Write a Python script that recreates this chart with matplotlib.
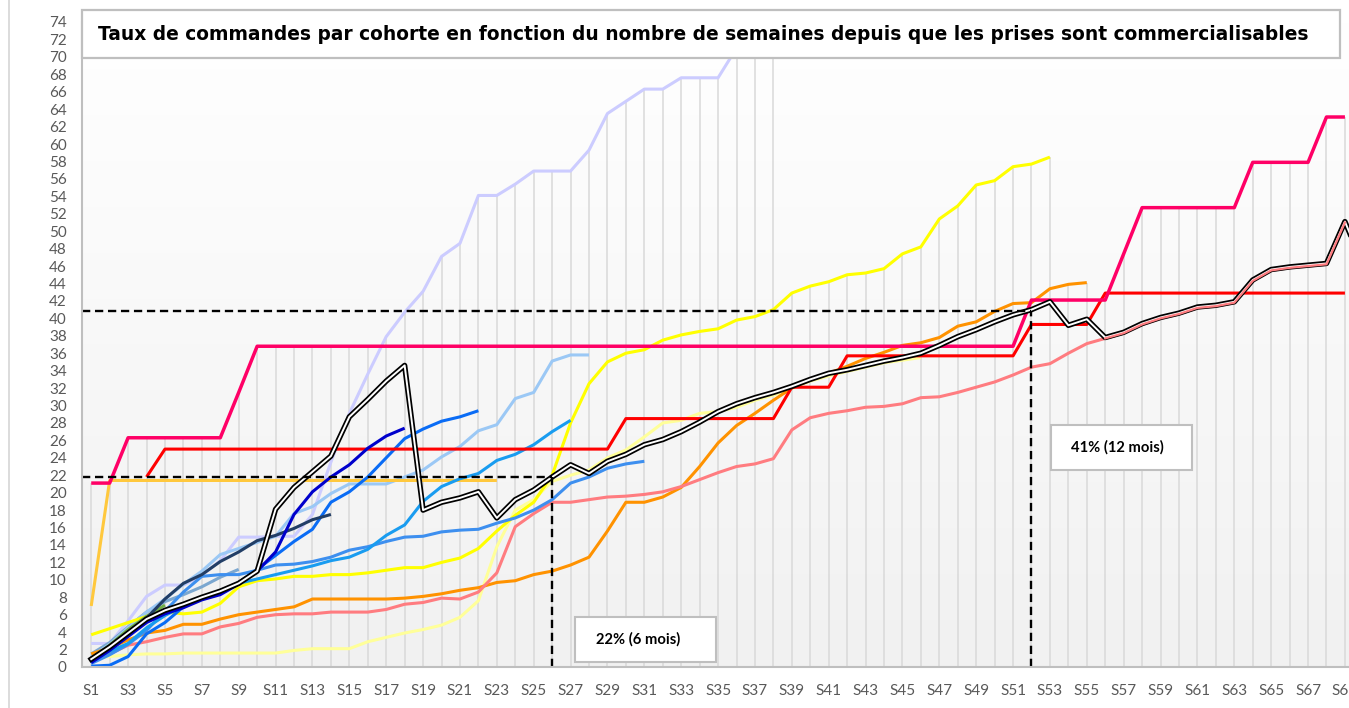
import numpy as np
import matplotlib
matplotlib.use('Agg')
import matplotlib.pyplot as plt
from matplotlib.patches import Rectangle
from matplotlib.lines import Line2D

#-------------------------------------------------------------------------
# data : taux de commandes (%) par cohorte, semaine S1 .. S70
#-------------------------------------------------------------------------
n_weeks = 70
weeks = ['S%d' % (i + 1) for i in range(n_weeks)]
nan = np.nan

pink = [21.1, 21.1, 26.3, 26.3, 26.3, 26.3, 26.3, 26.3, 31.5, 36.8,
        36.8, 36.8, 36.8, 36.8, 36.8, 36.8, 36.8, 36.8, 36.8, 36.8,
        36.8, 36.8, 36.8, 36.8, 36.8, 36.8, 36.8, 36.8, 36.8, 36.8,
        36.8, 36.8, 36.8, 36.8, 36.8, 36.8, 36.8, 36.8, 36.8, 36.8,
        36.8, 36.8, 36.8, 36.8, 36.8, 36.8, 36.8, 36.8, 36.8, 36.8,
        36.8, 42.1, 42.1, 42.1, 42.1, 42.1, 47.4, 52.7, 52.7, 52.7,
        52.7, 52.7, 52.7, 57.9, 57.9, 57.9, 57.9, 63.1, 63.1]
red = [nan, nan, nan, 21.8, 25.0, 25.0, 25.0, 25.0, 25.0, 25.0,
       25.0, 25.0, 25.0, 25.0, 25.0, 25.0, 25.0, 25.0, 25.0, 25.0,
       25.0, 25.0, 25.0, 25.0, 25.0, 25.0, 25.0, 25.0, 25.0, 28.5,
       28.5, 28.5, 28.5, 28.5, 28.5, 28.5, 28.5, 28.5, 32.1, 32.1,
       32.1, 35.7, 35.7, 35.7, 35.7, 35.7, 35.7, 35.7, 35.7, 35.7,
       35.7, 39.3, 39.3, 39.3, 39.3, 42.9, 42.9, 42.9, 42.9, 42.9,
       42.9, 42.9, 42.9, 42.9, 42.9, 42.9, 42.9, 42.9, 42.9]
gold = [7.0, 21.4, 21.4, 21.4, 21.4, 21.4, 21.4, 21.4, 21.4, 21.4,
        21.4, 21.4, 21.4, 21.4, 21.4, 21.4, 21.4, 21.4, 21.4, 21.4,
        21.4, 21.4, 21.4]
lavender = [2.7, 2.7, 5.3, 8.1, 9.4, 9.4, 10.5, 12.2, 14.9, 14.9,
            15.0, 15.0, 17.5, 23.5, 29.1, 33.6, 37.9, 40.7, 43.1, 47.1,
            48.6, 54.1, 54.1, 55.4, 56.9, 56.9, 56.9, 59.3, 63.5, 64.9,
            66.3, 66.3, 67.6, 67.6, 67.6, 71.0, 72.6, 73.6]
yellow = [3.7, 4.4, 5.1, 5.8, 6.3, 6.1, 6.3, 7.3, 9.2, 9.9,
          10.1, 10.4, 10.4, 10.6, 10.6, 10.8, 11.1, 11.4, 11.4, 12.0,
          12.5, 13.6, 15.6, 17.4, 18.9, 22.0, 28.0, 32.5, 35.0, 36.0,
          36.4, 37.5, 38.1, 38.5, 38.8, 39.8, 40.2, 41.0, 42.9, 43.7,
          44.2, 45.0, 45.2, 45.7, 47.4, 48.2, 51.4, 52.9, 55.3, 55.8,
          57.4, 57.7, 58.5]
pale_yellow = [1.0, 1.2, 1.4, 1.5, 1.5, 1.6, 1.6, 1.6, 1.6, 1.6,
               1.6, 1.9, 2.1, 2.1, 2.1, 2.9, 3.4, 3.9, 4.3, 4.8,
               5.7, 7.6, 13.8, 18.0, 19.2, 21.3, 22.0, 22.6, 24.0, 24.9,
               26.4, 28.0, 28.3, 29.1, 29.3, 29.8, 30.6, 31.2, 32.0, 32.8,
               33.4, 33.9, 34.4, 34.9, 35.2, 35.5]
orange = [1.5, 2.2, 3.1, 3.9, 4.2, 4.9, 4.9, 5.5, 6.0, 6.3,
          6.6, 6.9, 7.8, 7.8, 7.8, 7.8, 7.8, 7.9, 8.1, 8.4,
          8.8, 9.1, 9.7, 9.9, 10.6, 11.0, 11.7, 12.6, 15.6, 18.9,
          18.9, 19.5, 20.6, 23.0, 25.7, 27.7, 29.1, 30.6, 32.0, 32.9,
          33.7, 34.5, 35.4, 36.1, 36.9, 37.2, 37.8, 39.1, 39.6, 40.8,
          41.7, 41.8, 43.4, 43.9, 44.1]
salmon = [0.5, 1.5, 2.5, 2.9, 3.4, 3.8, 3.8, 4.6, 5.0, 5.7,
          6.0, 6.1, 6.1, 6.3, 6.3, 6.3, 6.6, 7.2, 7.4, 7.9,
          7.8, 8.6, 10.8, 16.1, 17.6, 18.9, 18.9, 19.2, 19.5, 19.6,
          19.8, 20.1, 20.7, 21.5, 22.3, 23.0, 23.3, 23.9, 27.2, 28.6,
          29.1, 29.4, 29.8, 29.9, 30.2, 30.9, 31.0, 31.5, 32.1, 32.7,
          33.5, 34.4, 34.8, 36.0, 37.1, 37.7, 38.3, 39.3, 40.0, 40.5,
          41.2, 41.4, 41.8, 44.3, 45.5, 45.8, 46.0, 46.2, 51.0]
black = [0.9, 2.3, 3.9, 5.5, 6.5, 7.2, 8.0, 8.7, 9.6, 11.0,
         18.1, 20.6, 22.4, 24.2, 28.7, 30.7, 32.8, 34.6, 18.0, 18.9,
         19.4, 20.1, 17.1, 19.2, 20.3, 21.8, 23.2, 22.2, 23.6, 24.4,
         25.5, 26.1, 27.0, 28.1, 29.3, 30.2, 30.9, 31.5, 32.2, 33.0,
         33.7, 34.1, 34.6, 35.1, 35.5, 36.0, 36.9, 37.9, 38.7, 39.6,
         40.4, 41.0, 41.9, 39.2, 39.9, 37.8, 38.4, 39.4, 40.1, 40.6,
         41.3, 41.5, 41.9, 44.4, 45.6, 45.9, 46.1, 46.3, 51.1, 46.0]
navy = [1.0, 2.4, 4.0, 5.6, 7.8, 9.6, 10.6, 12.1, 13.2, 14.5,
        15.1, 15.9, 16.9, 17.5]
dark_blue = [0.5, 1.9, 3.5, 5.1, 6.1, 6.8, 7.7, 8.3, 9.5, 11.0,
             13.2, 17.5, 20.1, 21.8, 23.2, 25.1, 26.5, 27.4]
green = [1.0, 2.5, 4.3, 5.8, 7.1]
blue_a = [0.1, 0.2, 1.2, 3.8, 5.1, 6.9, 8.0, 8.7, 9.7, 11.2,
          12.8, 14.4, 15.8, 18.9, 20.1, 21.8, 24.0, 26.2, 27.3, 28.2,
          28.7, 29.4]
blue_b = [0.6, 1.8, 2.7, 4.5, 5.9, 7.0, 7.8, 8.8, 9.6, 10.1,
          10.6, 11.1, 11.6, 12.2, 12.6, 13.5, 15.1, 16.3, 19.0, 20.7,
          21.6, 22.2, 23.7, 24.4, 25.5, 27.0, 28.3]
blue_c = [0.4, 1.4, 2.6, 4.2, 6.4, 8.6, 10.4, 10.6, 10.6, 11.1,
          11.7, 11.8, 12.1, 12.6, 13.4, 13.8, 14.4, 14.9, 15.0, 15.5,
          15.7, 15.8, 16.5, 17.1, 18.0, 19.2, 21.1, 21.8, 22.8, 23.3,
          23.6]
sky = [1.2, 2.6, 4.5, 6.3, 7.8, 9.5, 11.0, 12.9, 13.6, 14.3,
       15.0, 17.6, 18.4, 19.9, 21.0, 21.0, 21.0, 21.8, 22.6, 24.1,
       25.3, 27.1, 27.8, 30.8, 31.5, 35.1, 35.8, 35.8]
steel = [1.5, 2.8, 4.6, 6.3, 7.5, 8.3, 9.2, 10.3, 11.2]

# reperes : 22% a 6 mois (S26), 41% a 12 mois (S52)
ref_week = [26, 52]
ref_value = [21.8, 40.9]
ref_label = ['22% (6 mois)', '41% (12 mois)']

title = ('Taux de commandes par cohorte en fonction du nombre de semaines '
         'depuis que les prises sont commercialisables')


def pad(values):
    out = np.full(n_weeks, np.nan)
    out[:len(values)] = values
    return out


# (values, color, width, zorder)
series = [
    (lavender, '#ccccff', 2.2, 2.0),
    (pale_yellow, '#ffff99', 2.2, 2.1),
    (steel, '#7ba7d0', 2.2, 2.2),
    (sky, '#9bc8f5', 2.2, 2.3),
    (gold, '#ffc83d', 2.2, 2.4),
    (orange, '#ff9200', 2.2, 2.5),
    (salmon, '#ff7c80', 2.2, 2.6),
    (yellow, '#ffff00', 2.2, 2.7),
    (blue_c, '#3d8fef', 2.2, 2.8),
    (blue_b, '#199cf0', 2.2, 2.9),
    (blue_a, '#0a6cf5', 2.2, 3.0),
    (green, '#70ad47', 2.2, 3.1),
    (red, '#ff0000', 2.2, 3.2),
    (pink, '#ff0066', 2.5, 3.3),
    (navy, '#223e66', 2.2, 3.4),
    (dark_blue, '#0000cc', 2.2, 3.5),
]

x = np.arange(n_weeks)
W, H = 1349, 708
fig = plt.figure(figsize=(W / 100, H / 100), dpi=100)
ax = fig.add_axes([82 / W, 1 - 667 / H, 1 - 82 / W, (667 - 22) / H])
ax.set_xlim(-0.5, (W - 91) / 18.44)
ax.set_ylim(0, 74)

# fond degrade blanc -> gris clair
grad = np.linspace(0, 1, 256).reshape(-1, 1)
ax.imshow(grad, extent=[0, 1, 0, 1], transform=ax.transAxes, aspect='auto',
          cmap=matplotlib.colors.LinearSegmentedColormap.from_list('bg', ['#ffffff', '#f1f1f1']),
          zorder=0)

# lignes de projection (max de toutes les series par semaine)
all_vals = np.vstack([pad(s[0]) for s in series] + [pad(black)])
tops = np.nanmax(all_vals, axis=0)
ax.vlines(x, 0, tops, color='#d9d9d9', lw=1.1, zorder=1)

for vals, col, lw, z in series:
    ax.plot(x, pad(vals), color=col, lw=lw, zorder=z, solid_capstyle='butt')

# ligne double noire
ax.plot(x, pad(black), color='black', lw=3.9, zorder=4)
ax.plot(x, pad(black), color='white', lw=1.4, zorder=4.1)
tail = pad(salmon)
tail[:55] = np.nan
ax.plot(x, tail, color='#ff7c80', lw=1.6, zorder=4.2)

# reperes en pointilles
for wk, val in zip(ref_week, ref_value):
    ax.plot([-0.5, wk - 1], [val, val], color='black', lw=1.7, ls=(0, (3.5, 2.0)), zorder=5)
    ax.plot([wk - 1, wk - 1], [0, val], color='black', lw=1.7, ls=(0, (3.5, 2.0)), zorder=5)

ax.set_yticks(np.arange(0, 75, 2))
ax.set_xticks(x[::2])
ax.set_xticklabels(weeks[::2])
ax.tick_params(length=0, colors='#595959', labelsize=11)
ax.tick_params(axis='y', pad=11)
ax.tick_params(axis='x', pad=12)
for lab in ax.get_xticklabels() + ax.get_yticklabels():
    lab.set_fontfamily('Lato')
for s in ['top', 'right']:
    ax.spines[s].set_visible(False)
for s in ['left', 'bottom']:
    ax.spines[s].set_color('#bfbfbf')
    ax.spines[s].set_linewidth(1.5)
    ax.spines[s].set_zorder(6)

# cadre du titre
fig.add_artist(Rectangle((82 / W, 1 - 58 / H), 1258 / W, 48 / H, transform=fig.transFigure,
                         facecolor='white', edgecolor='#bfbfbf', lw=1.6, zorder=5))
fig.text(703.5 / W, 1 - 34 / H, title, ha='center', va='center', fontsize=13.4,
         fontweight='bold', family='DejaVu Sans', zorder=6)

# encadres des reperes
boxes = [(575, 617, 638), (1051, 425, 1117)]
for (bx, by, tx), lab in zip(boxes, ref_label):
    fig.add_artist(Rectangle((bx / W, 1 - (by + 45) / H), 141 / W, 45 / H, transform=fig.transFigure,
                             facecolor='white', edgecolor='#bfbfbf', lw=1.5, zorder=5))
    fig.text(tx / W, 1 - (by + 22.5) / H, lab, ha='center', va='center', fontsize=10.6,
             fontweight='bold', family='Lato', zorder=6)

fig.add_artist(Line2D([8.5 / W, 8.5 / W], [0, 1], color='#d9d9d9', lw=1.3))

fig.savefig('out.png', dpi=100)
